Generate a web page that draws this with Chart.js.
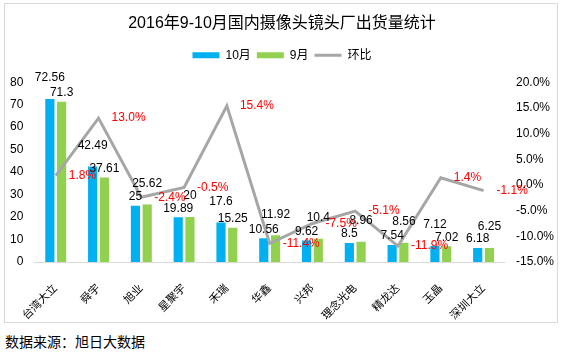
<!DOCTYPE html>
<html>
<head>
<meta charset="utf-8">
<script src="https://cdn.jsdelivr.net/npm/chart.js@4/dist/chart.umd.min.js"></script>
<style>
  body { margin: 0; background: #fff; font-family: 'Liberation Sans', 'Noto Sans CJK SC', sans-serif; }
  #frame { position: absolute; left: 4px; top: 3px; width: 552px; height: 318px; border: 1px solid #d9d9d9; }
  #source { position: absolute; left: 5px; top: 331px; font-size: 14px; color: #000; font-family: 'Noto Sans CJK SC', sans-serif; }
</style>
</head>
<body>
<div id="frame"><canvas id="chart" width="552" height="318"></canvas></div>
<div id="source">数据来源：旭日大数据</div>
<script>
const companies = ['台湾大立', '舜宇', '旭业', '星聚宇', '禾瑞', '华鑫', '兴邦', '理念光电', '精龙达', '玉晶', '深圳大立']
const october = [72.56, 42.49, 25, 19.89, 17.6, 10.56, 9.62, 8.5, 7.54, 7.12, 6.18]
const september = [71.3, 37.61, 25.62, 20, 15.25, 11.92, 10.4, 8.96, 8.56, 7.02, 6.25]
// month on month change, percent
const change = [1.8, 13.0, -2.4, -0.5, 15.4, -11.4, -7.5, -5.1, -11.9, 1.4, -1.1]

const FONT = "'Liberation Sans', 'Noto Sans CJK SC', sans-serif"

// draws the value labels: numbers above bars, red percentages right of line points
const valueLabels = {
    id: 'valueLabels',
    afterDatasetsDraw(chart) {
        const ctx = chart.ctx
        ctx.save()
        ctx.font = '12px ' + FONT
        ctx.fillStyle = '#000'
        ctx.textAlign = 'center'
        ctx.textBaseline = 'bottom'
        const blue = chart.getDatasetMeta(0).data
        const green = chart.getDatasetMeta(1).data
        blue.forEach((bar, i) => {
            const g = green[i]
            const tb = String(october[i]), tg = String(september[i])
            let yb = bar.y - 3, yg = g.y - 3
            const wb = ctx.measureText(tb).width, wg = ctx.measureText(tg).width
            const overlap = (bar.x + wb / 2) > (g.x - wg / 2)
            // stack the pair: the taller bar's label goes on top
            if (overlap && Math.abs(yb - yg) < 12) {
                if (october[i] > september[i]) yb = Math.min(yb, yg) - 12
                else yg = Math.min(yb, yg) - 12
            }
            ctx.fillText(tb, bar.x, yb)
            ctx.fillText(tg, g.x, yg)
        })
        const pts = chart.getDatasetMeta(2).data
        ctx.fillStyle = '#ff0000'
        ctx.textAlign = 'left'
        ctx.textBaseline = 'middle'
        pts.forEach((p, i) => {
            ctx.fillText(change[i].toFixed(1) + '%', p.x + 13, p.y)
        })
        ctx.restore()
    }
}

// a bit more room under the legend
const legendGap = {
    id: 'legendGap',
    beforeInit(chart) {
        const fit = chart.legend.fit
        chart.legend.fit = function () {
            fit.bind(chart.legend)()
            this.height += 11
        }
    }
}

const chart = new Chart(document.getElementById('chart'), {
    type: 'bar',
    data: {
        labels: companies,
        datasets: [{
            label: '10月',
            data: october,
            backgroundColor: '#00b0f0',
            yAxisID: 'y',
            order: 1,
            barPercentage: 0.78,
            categoryPercentage: 0.55,
        }, {
            label: '9月',
            data: september,
            backgroundColor: '#92d050',
            yAxisID: 'y',
            order: 1,
            barPercentage: 0.78,
            categoryPercentage: 0.55,
        }, {
            type: 'line',
            label: '环比',
            data: change,
            borderColor: '#a6a6a6',
            backgroundColor: '#a6a6a6',
            borderWidth: 3,
            pointRadius: 0,
            tension: 0,
            yAxisID: 'y1',
            order: 0,
        }]
    },
    options: {
        responsive: false,
        animation: false,
        layout: { padding: { left: 2, right: 0, top: 4, bottom: 0 } },
        plugins: {
            title: {
                display: true,
                text: '2016年9-10月国内摄像头镜头厂出货量统计',
                color: '#000',
                font: { size: 16, family: FONT, weight: 'normal' },
                padding: { top: 6, bottom: 10 },
            },
            legend: {
                labels: {
                    usePointStyle: true,
                    pointStyleWidth: 27,
                    boxHeight: 6,
                    color: '#000',
                    font: { size: 12, family: FONT },
                    padding: 6,
                    sort: (a, b) => a.datasetIndex - b.datasetIndex,
                    generateLabels(chart) {
                        const items = Chart.defaults.plugins.legend.labels.generateLabels(chart)
                        items.forEach(item => {
                            item.pointStyle = item.datasetIndex === 2 ? 'line' : 'rect'
                            if (item.datasetIndex === 2) item.lineWidth = 3
                        })
                        return items
                    }
                }
            },
            tooltip: { enabled: false },
        },
        scales: {
            x: {
                grid: { display: false },
                border: { display: true, color: '#d9d9d9' },
                ticks: {
                    color: '#000',
                    font: { size: 11, family: FONT },
                    minRotation: 45,
                    maxRotation: 45,
                    padding: 12,
                },
                afterFit(scale) { scale.height = 60 }
            },
            y: {
                position: 'left',
                min: 0,
                max: 80,
                grid: { display: false },
                border: { display: false },
                ticks: { stepSize: 10, color: '#000', font: { size: 12, family: FONT } }
            },
            y1: {
                position: 'right',
                min: -15,
                max: 20,
                grid: { display: false },
                border: { display: false },
                ticks: {
                    stepSize: 5,
                    color: '#000',
                    font: { size: 12, family: FONT },
                    callback: v => v.toFixed(1) + '%'
                }
            }
        }
    },
    plugins: [valueLabels, legendGap]
});
</script>
</body>
</html>
